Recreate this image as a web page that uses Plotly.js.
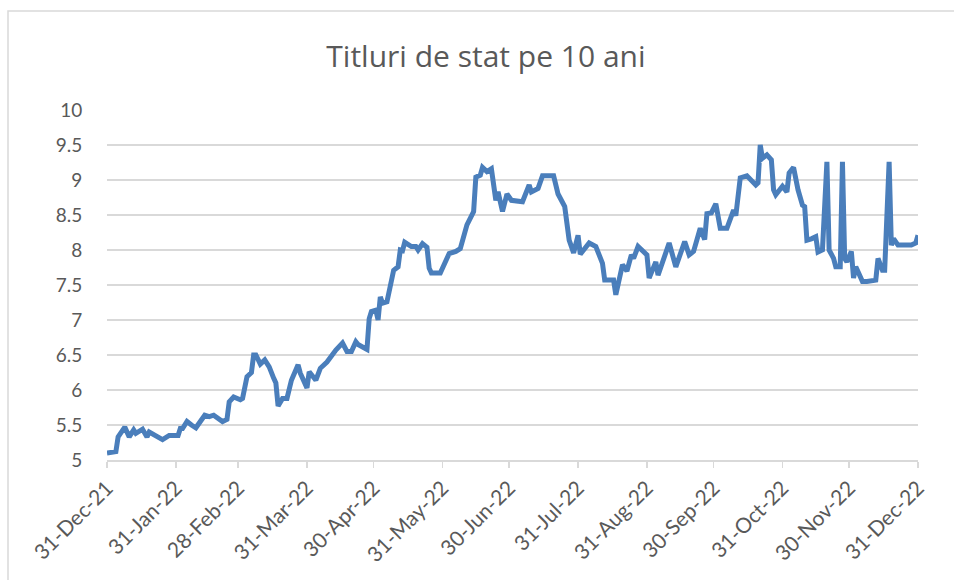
<!DOCTYPE html>
<html>
<head>
<meta charset="utf-8">
<script src="https://cdn.plot.ly/plotly-3.0.1.min.js"></script>
<style>html,body{margin:0;padding:0;background:#fff;}#chart{width:954px;height:580px;}</style>
</head>
<body>
<div id="chart"></div>
<script>
const dates = [
"2021-12-31","2022-01-03","2022-01-04","2022-01-05","2022-01-08","2022-01-10","2022-01-12","2022-01-13","2022-01-16","2022-01-18",
"2022-01-19","2022-01-25","2022-01-28","2022-02-01","2022-02-02","2022-02-03","2022-02-05","2022-02-07","2022-02-09","2022-02-13",
"2022-02-15","2022-02-17","2022-02-19","2022-02-21","2022-02-23","2022-02-24","2022-02-26","2022-03-01","2022-03-02","2022-03-04",
"2022-03-06","2022-03-07","2022-03-08","2022-03-10","2022-03-12","2022-03-14","2022-03-16","2022-03-17","2022-03-18","2022-03-20",
"2022-03-22","2022-03-24","2022-03-27","2022-03-28","2022-03-31","2022-04-01","2022-04-04","2022-04-06","2022-04-09","2022-04-11",
"2022-04-13","2022-04-16","2022-04-18","2022-04-20","2022-04-22","2022-04-23","2022-04-27","2022-04-28","2022-04-29","2022-05-01",
"2022-05-02","2022-05-03","2022-05-04","2022-05-06","2022-05-09","2022-05-11","2022-05-12","2022-05-13","2022-05-14","2022-05-17",
"2022-05-19","2022-05-20","2022-05-22","2022-05-24","2022-05-25","2022-05-26","2022-05-30","2022-06-03","2022-06-06","2022-06-08",
"2022-06-11","2022-06-14","2022-06-15","2022-06-17","2022-06-18","2022-06-20","2022-06-22","2022-06-24","2022-06-25","2022-06-27",
"2022-06-29","2022-07-01","2022-07-06","2022-07-09","2022-07-10","2022-07-13","2022-07-15","2022-07-20","2022-07-22","2022-07-25",
"2022-07-27","2022-07-29","2022-07-31","2022-08-01","2022-08-05","2022-08-08","2022-08-11","2022-08-12","2022-08-16","2022-08-17",
"2022-08-20","2022-08-22","2022-08-24","2022-08-25","2022-08-27","2022-08-31","2022-09-01","2022-09-04","2022-09-05","2022-09-10",
"2022-09-13","2022-09-17","2022-09-19","2022-09-21","2022-09-24","2022-09-26","2022-09-27","2022-09-29","2022-10-01","2022-10-03",
"2022-10-06","2022-10-09","2022-10-10","2022-10-12","2022-10-15","2022-10-19","2022-10-20","2022-10-21","2022-10-22","2022-10-24",
"2022-10-26","2022-10-27","2022-10-28","2022-10-31","2022-11-02","2022-11-03","2022-11-05","2022-11-07","2022-11-09","2022-11-10",
"2022-11-11","2022-11-13","2022-11-15","2022-11-16","2022-11-18","2022-11-20","2022-11-21","2022-11-23","2022-11-24","2022-11-26",
"2022-11-27","2022-11-28","2022-11-29","2022-12-01","2022-12-02","2022-12-03","2022-12-06","2022-12-08","2022-12-12","2022-12-13",
"2022-12-15","2022-12-16","2022-12-18","2022-12-19","2022-12-20","2022-12-22","2022-12-28","2022-12-30","2022-12-31"
];
const yields = [
5.10,5.11,5.12,5.33,5.47,5.33,5.43,5.38,5.44,5.33,
5.40,5.29,5.35,5.35,5.45,5.45,5.55,5.50,5.46,5.64,
5.62,5.64,5.60,5.55,5.58,5.83,5.90,5.86,5.88,6.19,
6.25,6.50,6.50,6.37,6.43,6.33,6.17,6.10,5.77,5.88,
5.88,6.14,6.36,6.24,6.03,6.26,6.14,6.31,6.40,6.50,
6.57,6.67,6.55,6.55,6.69,6.65,6.58,7.02,7.12,7.14,
7.00,7.33,7.24,7.26,7.71,7.76,8.00,7.99,8.11,8.05,
8.05,8.00,8.09,8.04,7.74,7.67,7.67,7.95,7.98,8.02,
8.36,8.55,9.04,9.07,9.18,9.12,9.16,8.71,8.83,8.55,
8.80,8.71,8.69,8.93,8.83,8.88,9.06,9.06,8.80,8.62,
8.14,7.96,8.21,7.94,8.10,8.05,7.81,7.57,7.57,7.36,
7.79,7.70,7.93,7.88,8.05,7.93,7.60,7.83,7.64,8.10,
7.76,8.12,7.93,7.98,8.31,8.15,8.52,8.53,8.66,8.31,
8.31,8.57,8.49,9.03,9.06,8.93,8.96,9.50,9.31,9.36,
9.29,8.86,8.79,8.91,8.83,9.10,9.18,8.86,8.64,8.62,
8.14,8.16,8.19,7.97,8.00,9.26,8.00,7.88,7.76,7.76,
9.26,7.88,7.83,7.98,7.60,7.76,7.55,7.55,7.57,7.88,
7.71,7.71,9.26,8.07,8.16,8.07,8.07,8.10,8.21
];
const tickDates = ["2021-12-31","2022-01-31","2022-02-28","2022-03-31","2022-04-30","2022-05-31","2022-06-30","2022-07-31","2022-08-31","2022-09-30","2022-10-31","2022-11-30","2022-12-31"];
const tickLabels = ["31-Dec-21","31-Jan-22","28-Feb-22","31-Mar-22","30-Apr-22","31-May-22","30-Jun-22","31-Jul-22","31-Aug-22","30-Sep-22","31-Oct-22","30-Nov-22","31-Dec-22"];
const yTicks = [5,5.5,6,6.5,7,7.5,8,8.5,9,9.5,10];
const yTickLabels = ["5","5.5","6","6.5","7","7.5","8","8.5","9","9.5","10"];

const font = "Lato, 'Open Sans', sans-serif";
const trace = {
  x: dates, y: yields, type: "scatter", mode: "lines",
  line: {color: "#4a7ebb", width: 5, shape: "linear"},
  hoverinfo: "x+y"
};
const layout = {
  width: 954, height: 580,
  margin: {l: 107, r: 36, t: 110, b: 120},
  paper_bgcolor: "#ffffff", plot_bgcolor: "#ffffff",
  showlegend: false,
  font: {family: font, color: "#595959"},
  title: {text: "Titluri de stat pe 10 ani", font: {family: "'Open Sans', sans-serif", size: 30, color: "#595959"},
          x: 0.5094, xref: "container", xanchor: "center", y: 0.902, yref: "container", yanchor: "middle"},
  xaxis: {
    type: "date", range: ["2021-12-31", "2022-12-31"],
    tickmode: "array", tickvals: tickDates, ticktext: tickLabels,
    tickangle: -45, tickfont: {family: font, size: 21, color: "#595959"},
    showgrid: false, zeroline: false,
    showline: true, linecolor: "#d9d9d9", linewidth: 1.5,
    ticks: "outside", ticklen: 6, tickcolor: "#d9d9d9", tickwidth: 1.5
  },
  yaxis: {
    range: [5, 10], tickmode: "array", tickvals: yTicks, ticktext: yTickLabels,
    tickfont: {family: font, size: 19, color: "#595959"},
    showgrid: true, gridcolor: "#d9d9d9", gridwidth: 1.5,
    zeroline: false, showline: false,
    ticks: "outside", ticklen: 20, tickcolor: "rgba(0,0,0,0)"
  },
  shapes: [{
    type: "rect", xref: "paper", yref: "paper",
    x0: (8 - 107) / 811, x1: (975 - 107) / 811,
    y0: (460 - 590) / 350, y1: (460 - 11) / 350,
    line: {color: "#d9d9d9", width: 1.5}, fillcolor: "rgba(0,0,0,0)", layer: "below"
  }]
};
Plotly.newPlot("chart", [trace], layout, {displayModeBar: false, staticPlot: true});
</script>
</body>
</html>
